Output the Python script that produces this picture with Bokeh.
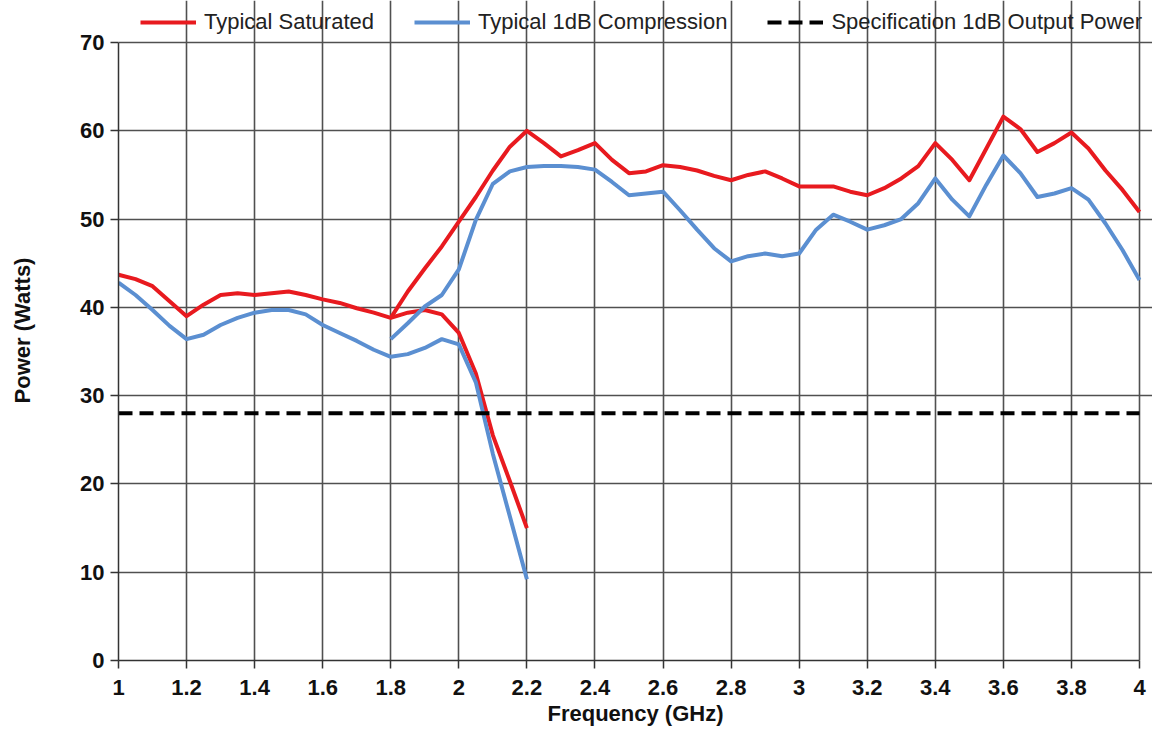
from bokeh.plotting import figure
from bokeh.models import Range1d, FixedTicker, Legend, LegendItem
from bokeh.embed import file_html
from bokeh.resources import INLINE

# ---- data ----
# lower band: 1.0 - 2.2 GHz
freq_low = [1.0, 1.05, 1.1, 1.15, 1.2, 1.25, 1.3, 1.35, 1.4, 1.45, 1.5, 1.55, 1.6,
            1.65, 1.7, 1.75, 1.8, 1.85, 1.9, 1.95, 2.0, 2.05, 2.1, 2.15, 2.2]
sat_low = [43.7, 43.2, 42.4, 40.7, 39.0, 40.3, 41.4, 41.6, 41.4, 41.6, 41.8, 41.4, 40.9,
           40.5, 39.9, 39.4, 38.8, 39.4, 39.7, 39.2, 37.1, 32.5, 25.5, 20.3, 15.0]
comp_low = [42.8, 41.4, 39.7, 37.9, 36.4, 36.9, 38.0, 38.8, 39.4, 39.7, 39.7, 39.2, 38.0,
            37.1, 36.2, 35.2, 34.4, 34.7, 35.4, 36.4, 35.8, 31.5, 23.4, 16.3, 9.2]

# upper band: 1.8 - 4.0 GHz
freq_high = [1.8, 1.85, 1.9, 1.95, 2.0, 2.05, 2.1, 2.15, 2.2, 2.25, 2.3, 2.35, 2.4,
             2.45, 2.5, 2.55, 2.6, 2.65, 2.7, 2.75, 2.8, 2.85, 2.9, 2.95, 3.0,
             3.05, 3.1, 3.15, 3.2, 3.25, 3.3, 3.35, 3.4, 3.45, 3.5, 3.55, 3.6,
             3.65, 3.7, 3.75, 3.8, 3.85, 3.9, 3.95, 4.0]
sat_high = [38.8, 41.8, 44.4, 46.9, 49.7, 52.5, 55.5, 58.2, 60.0, 58.6, 57.1, 57.8, 58.6,
            56.7, 55.2, 55.4, 56.1, 55.9, 55.5, 54.9, 54.4, 55.0, 55.4, 54.6, 53.7,
            53.7, 53.7, 53.1, 52.7, 53.5, 54.6, 56.0, 58.6, 56.7, 54.4, 58.0, 61.6,
            60.2, 57.6, 58.6, 59.8, 58.0, 55.5, 53.3, 50.8]
comp_high = [36.4, 38.2, 40.1, 41.4, 44.3, 49.9, 54.0, 55.4, 55.9, 56.0, 56.0, 55.9, 55.6,
             54.2, 52.7, 52.9, 53.1, 51.0, 48.8, 46.7, 45.2, 45.8, 46.1, 45.8, 46.1,
             48.8, 50.5, 49.7, 48.8, 49.3, 50.0, 51.8, 54.6, 52.2, 50.3, 53.9, 57.2,
             55.2, 52.5, 52.9, 53.5, 52.2, 49.5, 46.5, 43.1]

spec_x = [1.0, 4.0]
spec_y = [28.0, 28.0]

x_ticks = [1.0, 1.2, 1.4, 1.6, 1.8, 2.0, 2.2, 2.4, 2.6, 2.8, 3.0, 3.2, 3.4, 3.6, 3.8, 4.0]
x_tick_labels = ["1", "1.2", "1.4", "1.6", "1.8", "2", "2.2", "2.4", "2.6", "2.8",
                 "3", "3.2", "3.4", "3.6", "3.8", "4"]
y_ticks = [0, 10, 20, 30, 40, 50, 60, 70]
x_lo, x_hi = 1.0, 4.0
y_lo, y_hi = 0.0, 70.0

labels = ["Typical Saturated", "Typical 1dB Compression", "Specification 1dB Output Power"]

RED = "#e81a1f"
BLUE = "#5b8fd1"
FONT = "Liberation Sans"

# layout (pixels)
W, H = 1152, 728
LEFT, RIGHT_PAD, TOP_PAD, BOTTOM = 118, 13, 42, 68
frame_w = W - LEFT
frame_h = H - BOTTOM
plot_w = frame_w - RIGHT_PAD          # pixels spanning x_lo..x_hi
plot_h = frame_h - TOP_PAD            # pixels spanning y_lo..y_hi
x_end = x_hi + (x_hi - x_lo) * RIGHT_PAD / plot_w
y_end = y_hi + (y_hi - y_lo) * TOP_PAD / plot_h

p = figure(width=W, height=H, output_backend="svg", toolbar_location=None,
           x_range=Range1d(x_lo, x_end), y_range=Range1d(y_lo, y_end))
p.min_border_left = LEFT
p.min_border_right = 0
p.min_border_top = 0
p.min_border_bottom = BOTTOM
p.outline_line_color = None

r1 = p.line(freq_low, sat_low, line_color=RED, line_width=4, line_join="round")
p.line(freq_high, sat_high, line_color=RED, line_width=4, line_join="round")
r2 = p.line(freq_low, comp_low, line_color=BLUE, line_width=4, line_join="round")
p.line(freq_high, comp_high, line_color=BLUE, line_width=4, line_join="round")
r3 = p.line(spec_x, spec_y, line_color="black", line_width=4, line_dash="14 7")

p.xaxis.ticker = FixedTicker(ticks=x_ticks)
p.xaxis.major_label_overrides = {t: l for t, l in zip(x_ticks, x_tick_labels)}
p.yaxis.ticker = FixedTicker(ticks=y_ticks)
p.xaxis.bounds = (x_lo, x_hi)
p.yaxis.bounds = (y_lo, y_hi)

for ax in (p.xaxis, p.yaxis):
    ax.major_label_text_font = FONT
    ax.major_label_text_font_style = "bold"
    ax.major_label_text_font_size = "22px"
    ax.major_label_text_color = "#111111"
    ax.axis_label_text_font = FONT
    ax.axis_label_text_font_style = "bold"
    ax.axis_label_text_font_size = "22px"
    ax.axis_label_text_color = "#111111"
    ax.major_tick_in = 0
    ax.major_tick_out = 8
    ax.minor_tick_line_color = None
    ax.axis_line_color = "#333333"
    ax.axis_line_width = 1.5
    ax.major_tick_line_color = "#333333"
    ax.major_tick_line_width = 1.5

p.xaxis.axis_label = "Frequency (GHz)"
p.yaxis.axis_label = "Power (Watts)"
p.xaxis.major_label_standoff = 11
p.yaxis.major_label_standoff = 6
p.xaxis.axis_label_standoff = 3
p.yaxis.axis_label_standoff = 42

p.grid.grid_line_color = "#505050"
p.grid.grid_line_width = 1.6
p.xgrid.bounds = (y_lo, y_hi)
p.ygrid.bounds = (x_lo, x_hi)

legend = Legend(items=[LegendItem(label=labels[0], renderers=[r1]),
                       LegendItem(label=labels[1], renderers=[r2]),
                       LegendItem(label=labels[2], renderers=[r3])],
                orientation="horizontal", location=(22, frame_h - 35))
legend.glyph_width = 56
legend.glyph_height = 20
legend.label_standoff = 8
legend.spacing = 40
legend.padding = 0
legend.margin = 0
legend.border_line_color = None
legend.background_fill_alpha = 0
legend.label_text_font = FONT
legend.label_text_font_size = "22px"
legend.label_text_color = "#222222"
p.add_layout(legend, "center")

open("out.html", "w").write(file_html(p, INLINE))
